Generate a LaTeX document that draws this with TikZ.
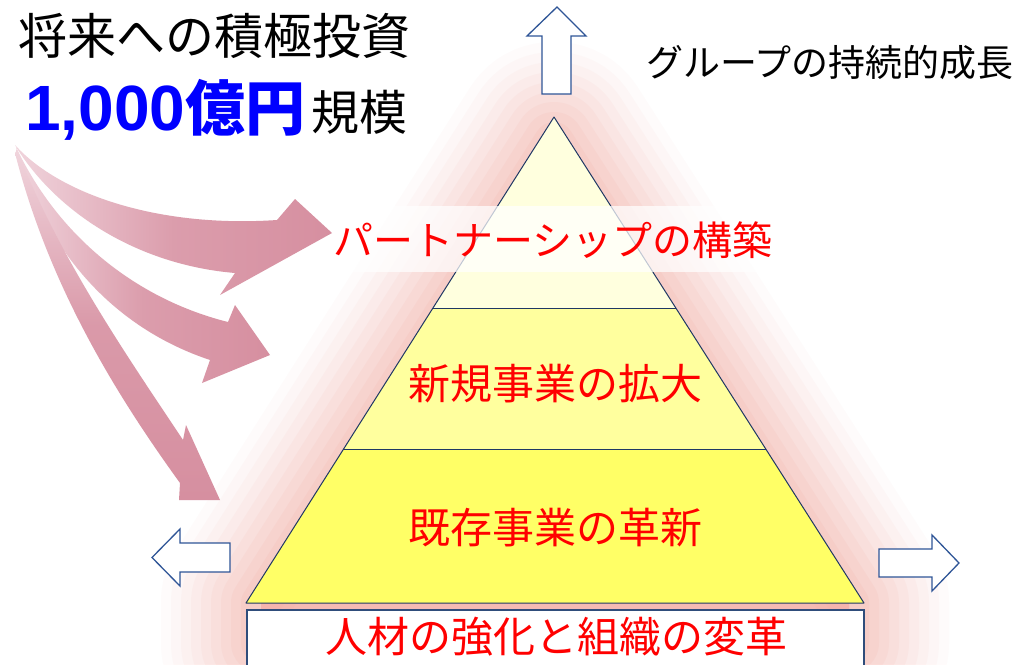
\documentclass[tikz,border=0pt]{standalone}
\usepackage{fontspec}
\newfontfamily\jp{Noto Sans CJK JP}
\newfontfamily\lat{Liberation Sans}
\usetikzlibrary{calc}
\definecolor{glowpink}{RGB}{245,165,155}
\definecolor{arrowpink}{RGB}{214,143,160}
\definecolor{arrowlight}{RGB}{240,212,220}
\definecolor{tierA}{RGB}{255,255,222}
\definecolor{tierB}{RGB}{255,255,158}
\definecolor{tierC}{RGB}{255,255,102}
\definecolor{edgeblue}{RGB}{31,56,100}
\definecolor{boxblue}{RGB}{47,77,123}
\definecolor{outlineblue}{RGB}{47,85,151}
\tikzset{
  tier/.style={draw=edgeblue, line width=1pt, line join=round},
  redlabel/.style={text=red, inner sep=0pt, font=\jp\fontsize{42}{42}\selectfont},
  blacklabel/.style={text=black, inner sep=0pt},
  blockarrow/.style={draw=outlineblue, fill=white, line width=1.3pt, line join=miter},
  pinkarrow/.style={draw=none},
  glowline/.style={draw=glowpink, line join=round}
}
\begin{document}
\begin{tikzpicture}[x=1pt,y=-1pt]
\useasboundingbox (0,0) rectangle (1025,664);
\fill[white] (0,0) rectangle (1025,664);
% pyramid corners
\coordinate (A) at (554,117);
\coordinate (BL) at (246,603);
\coordinate (BR) at (864,603);
\coordinate (L1) at ($(A)!0.395!(BL)$);
\coordinate (R1) at ($(A)!0.395!(BR)$);
\coordinate (L2) at ($(A)!0.685!(BL)$);
\coordinate (R2) at ($(A)!0.685!(BR)$);
% glow
\foreach \w/\o in {200/0.04,180/0.05,160/0.06,140/0.07,120/0.08,100/0.09,80/0.1,60/0.11,40/0.12}{
  \draw[glowline, line width=\w pt, draw opacity=\o, fill=glowpink, fill opacity=\o] ($(A)+(0,25)$) -- ($(BL)+(15,0)$) -- ++(0,40) -- ($(BR)+(-15,40)$) -- ($(BR)+(-15,0)$) -- cycle;
}
% pyramid tiers
\fill[tierA] (A) -- (L1) -- (R1) -- cycle;
\fill[tierB] (L1) -- (L2) -- (R2) -- (R1) -- cycle;
\fill[tierC] (L2) -- (BL) -- (BR) -- (R2) -- cycle;
\draw[tier] (A) -- (BL) -- (BR) -- cycle;
\draw[tier] (L1) -- (R1);
\draw[tier] (L2) -- (R2);
% translucent band behind the top label
\fill[white, opacity=0.72] (305,206) rectangle (805,272);
% bottom box
\node[draw=boxblue, line width=2pt, fill=white, minimum width=617pt, minimum height=70pt, anchor=north west, inner sep=0pt] (base) at (245.5,609) {};
% labels
\node[redlabel, font=\jp\fontsize{40}{40}\selectfont] (t1) at (553,240) {パートナーシップの構築};
\node[redlabel] (t2) at (555,384) {新規事業の拡大};
\node[redlabel] (t3) at (555,528) {既存事業の革新};
\node[redlabel] (t4) at (556,637) {人材の強化と組織の変革};
\node[blacklabel, font=\jp\fontsize{49}{49}\selectfont] (title) at (215,36) {将来への積極投資};
\node[blacklabel, anchor=base west] (amount) at (25,130) {{\color{blue}{\lat\bfseries\fontsize{64}{64}\selectfont 1,000}{\jp\bfseries\fontsize{60}{60}\selectfont 億円}}\hspace{6pt}{\jp\fontsize{48}{48}\selectfont 規模}};
\node[blacklabel, font=\jp\fontsize{37}{37}\selectfont] (growth) at (830,62) {グループの持続的成長};
% outline block arrows
\draw[blockarrow] (542,94) -- (542,36) -- (527,36) -- (557,7) -- (586,36) -- (571,36) -- (571,94) -- cycle;
\draw[blockarrow] (230,543) -- (180,543) -- (180,529) -- (152,557.5) -- (180,586) -- (180,572) -- (230,572) -- cycle;
\draw[blockarrow] (879,549) -- (932,549) -- (932,535) -- (959,563) -- (932,591) -- (932,577) -- (879,577) -- cycle;
% pink curved arrows
\shade[pinkarrow, left color=arrowlight, right color=arrowpink, middle color=arrowpink!80!arrowlight]
  (15,145) .. controls (60,195) and (160,228) .. (277,220) -- (295,199) -- (332,233) -- (220,295) -- (235,273)
  .. controls (140,265) and (60,215) .. (18,150) -- cycle;
\shade[pinkarrow, left color=arrowlight, right color=arrowpink, middle color=arrowpink!80!arrowlight]
  (16,147) .. controls (60,240) and (140,300) .. (228,322) -- (235,305) -- (270,355) -- (202,383) -- (210,360)
  .. controls (120,330) and (50,260) .. (17,152) -- cycle;
\shade[pinkarrow, top color=arrowlight, bottom color=arrowpink, middle color=arrowpink!85!arrowlight]
  (17,150) .. controls (60,260) and (130,360) .. (183,440) -- (186,425) -- (220,500) -- (179,500) -- (180,483)
  .. controls (120,400) and (50,290) .. (15,153) -- cycle;
\end{tikzpicture}
\end{document}
